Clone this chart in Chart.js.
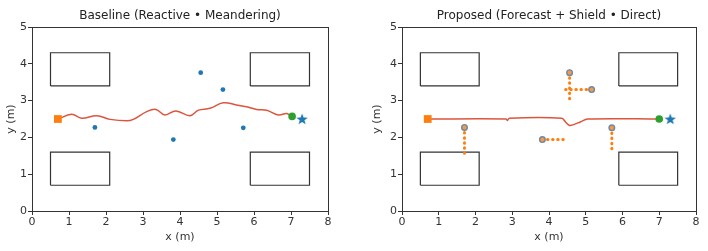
<!DOCTYPE html>
<html>
<head>
<meta charset="utf-8">
<script src="https://cdn.jsdelivr.net/npm/chart.js@4.4.1/dist/chart.umd.min.js"></script>
<style>
  body { margin: 0; background: #fff; }
  #wrap { position: relative; width: 708px; height: 251px; }
  canvas { position: absolute; top: 0; }
</style>
</head>
<body>
<div id="wrap">
  <canvas id="left" width="354" height="251" style="left:0"></canvas>
  <canvas id="right" width="354" height="251" style="left:354px"></canvas>
</div>
<script>
// data (metres)
const titles = ['Baseline (Reactive \u2022 Meandering)', 'Proposed (Forecast + Shield \u2022 Direct)'];
const xLabel = 'x (m)';
const yLabel = 'y (m)';
const xRange = [0, 8];
const yRange = [0, 5];

// obstacles: [x0, y0, x1, y1]
const obstacles = [
  [0.5, 3.4, 2.1, 4.3],
  [0.5, 0.7, 2.1, 1.6],
  [5.9, 3.4, 7.5, 4.3],
  [5.9, 0.7, 7.5, 1.6]
];
const startPos = [0.7, 2.5];
const goalPos = [7.3, 2.5];

const pedX = [1.70, 3.82, 4.56, 5.16, 5.71];
const pedY = [2.27, 1.94, 3.76, 3.30, 2.26];
// end of each pedestrian forecast (proposed panel)
const forecastX = [1.70, 4.45, 4.56, 4.42, 5.71];
const forecastY = [1.57, 1.94, 3.02, 3.30, 1.61];

const baselineX = [0.71, 1.07, 1.34, 1.75, 2.11, 2.56, 2.74, 3.10, 3.35, 3.59, 3.89, 4.27, 4.50, 4.81, 5.17, 5.53, 5.80, 6.07, 6.34, 6.66, 6.88, 6.97];
const baselineY = [2.50, 2.63, 2.52, 2.59, 2.49, 2.45, 2.49, 2.70, 2.76, 2.61, 2.72, 2.59, 2.74, 2.79, 2.94, 2.88, 2.83, 2.76, 2.74, 2.61, 2.65, 2.60];
const baselineEnd = [7.03, 2.57];

const proposedX = [0.70, 2.83, 2.87, 2.92, 4.35, 4.45, 4.55, 4.65, 4.85, 5.05, 7.00];
const proposedY = [2.50, 2.50, 2.46, 2.52, 2.52, 2.42, 2.33, 2.34, 2.42, 2.50, 2.50];
const proposedEnd = [7.00, 2.50];

Chart.defaults.font.family = 'DejaVu Sans';
Chart.defaults.color = '#333';

// filled star marker like matplotlib '*'
function starImage(size, color) {
  const c = document.createElement('canvas');
  c.width = size; c.height = size;
  const g = c.getContext('2d');
  const cx = size / 2, cy = size / 2 + 0.5, R = size / 2, r = R * 0.42;
  g.beginPath();
  for (let i = 0; i < 10; i++) {
    const a = -Math.PI / 2 + i * Math.PI / 5;
    const rr = i % 2 === 0 ? R : r;
    g.lineTo(cx + rr * Math.cos(a), cy + rr * Math.sin(a));
  }
  g.closePath();
  g.fillStyle = color;
  g.fill();
  return c;
}
const star = starImage(12, '#1f77b4');

const framePlugin = {
  id: 'frame',
  afterDatasetsDraw(chart) {
    const a = chart.chartArea;
    const ctx = chart.ctx;
    ctx.save();
    ctx.strokeStyle = '#333';
    ctx.lineWidth = 1;
    ctx.strokeRect(Math.round(a.left) + 0.5, Math.round(a.top) + 0.5, Math.round(a.right - a.left), Math.round(a.bottom - a.top));
    ctx.restore();
  }
};

function pts(xs, ys) {
  return xs.map((x, i) => ({ x: x, y: ys[i] }));
}

function obstacleSets() {
  return obstacles.map(o => ({
    data: [{x: o[0], y: o[1]}, {x: o[2], y: o[1]}, {x: o[2], y: o[3]}, {x: o[0], y: o[3]}, {x: o[0], y: o[1]}],
    showLine: true,
    borderColor: '#333',
    borderWidth: 1.2,
    pointRadius: 0,
    tension: 0,
    order: 5
  }));
}

function markerSets(endPos) {
  return [
    { data: [{x: startPos[0], y: startPos[1]}], pointStyle: 'rect', pointRadius: 5.5,
      backgroundColor: '#ff7f0e', borderColor: '#ff7f0e', borderWidth: 0, order: 1 },
    { data: [{x: endPos[0], y: endPos[1]}], pointStyle: 'circle', pointRadius: 3.8,
      backgroundColor: '#2ca02c', borderColor: '#2ca02c', borderWidth: 0, order: 1 },
    { data: [{x: goalPos[0], y: goalPos[1]}], pointStyle: star, pointRadius: 6,
      backgroundColor: '#1f77b4', borderWidth: 0, order: 1 }
  ];
}

function makeChart(id, title, datasets, yAxisWidth, yTitlePad, rightPad) {
  new Chart(document.getElementById(id), {
    type: 'scatter',
    data: { datasets: datasets },
    options: {
      responsive: false,
      animation: false,
      layout: { padding: { left: 0, right: rightPad, top: 0, bottom: 0 } },
      plugins: {
        legend: { display: false },
        tooltip: { enabled: false },
        title: {
          display: true,
          fullSize: false,
          align: 'center',
          text: title,
          color: '#222',
          font: { size: 12, weight: 'normal' },
          padding: { top: 8.8, bottom: 3.8 }
        }
      },
      scales: {
        x: {
          type: 'linear',
          min: xRange[0], max: xRange[1],
          afterFit: s => { s.height = 40; },
          ticks: { stepSize: 1, maxRotation: 0, autoSkip: false, padding: 1, font: { size: 11 }, color: '#333' },
          grid: { drawOnChartArea: false, tickLength: 4, color: '#333' },
          border: { color: '#333', width: 1 },
          title: { display: true, text: xLabel, font: { size: 11 }, color: '#333', padding: { top: 0, bottom: 7 } }
        },
        y: {
          type: 'linear',
          min: yRange[0], max: yRange[1],
          afterFit: s => { s.width = yAxisWidth; },
          ticks: { stepSize: 1, autoSkip: false, padding: 1, font: { size: 11 }, color: '#333' },
          grid: { drawOnChartArea: false, tickLength: 4, color: '#333' },
          border: { color: '#333', width: 1 },
          title: { display: true, text: yLabel, font: { size: 11 }, color: '#333', padding: { top: yTitlePad, bottom: 0 } }
        }
      }
    },
    plugins: [framePlugin]
  });
}

// baseline panel
const leftSets = obstacleSets().concat([
  { data: pts(baselineX, baselineY), showLine: true, borderColor: '#dc553f', borderWidth: 1.5,
    pointRadius: 0, tension: 0.4, order: 3 },
  { data: pts(pedX, pedY), pointRadius: 2.4, backgroundColor: '#1f77b4', borderWidth: 0, order: 2 }
]).concat(markerSets(baselineEnd));

makeChart('left', titles[0], leftSets, 32, 5, 26);

// proposed panel
const forecastSets = pedX.map((x, i) => ({
  data: [{x: x, y: pedY[i]}, {x: forecastX[i], y: forecastY[i]}],
  showLine: true,
  borderColor: '#ff7f0e',
  borderWidth: 3,
  borderDash: [0.5, 4.6],
  borderCapStyle: 'round',
  pointRadius: 0,
  order: 2
}));
const rightSets = obstacleSets().concat([
  { data: pts(proposedX, proposedY), showLine: true, borderColor: '#dc553f', borderWidth: 1.5,
    pointRadius: 0, tension: 0.3, order: 3 },
  { data: pts(pedX, pedY), pointRadius: 2.8, backgroundColor: '#f39a4a', borderColor: '#7089a5',
    borderWidth: 1.4, order: 1.5 }
]).concat(forecastSets).concat(markerSets(proposedEnd));

makeChart('right', titles[1], rightSets, 48, 17, 12);
</script>
</body>
</html>
